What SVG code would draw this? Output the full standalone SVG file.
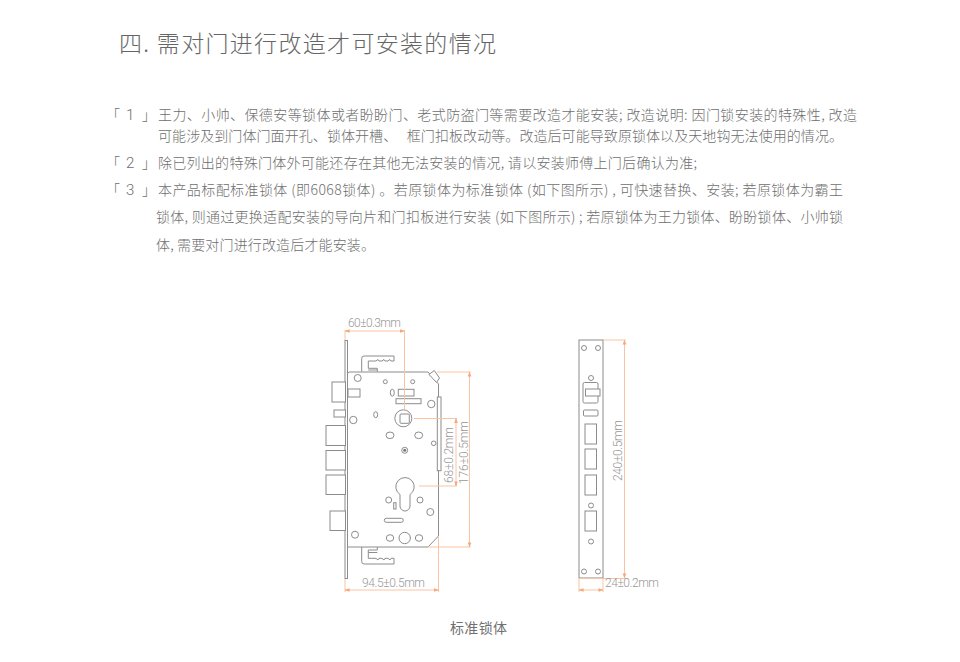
<svg xmlns="http://www.w3.org/2000/svg" width="960" height="662" viewBox="0 0 960 662">
<style>
text{font-family:"Noto Sans CJK SC","Liberation Sans",sans-serif;fill:#6e6e6e}
.t{font-size:14px;font-weight:300}
.h{font-size:23px;font-weight:300;fill:#666}
.d{font-size:12px;font-weight:300;fill:#999;font-family:Roboto,"Liberation Sans",sans-serif}
.c{font-size:14px;fill:#707070}
.n{font-size:15px;font-weight:300;font-family:Roboto,"Liberation Sans",sans-serif}
.o{fill:none;stroke:#fac3a3;stroke-width:1}
.l{fill:none;stroke:#8c8c8c;stroke-width:1}
.b{fill:#fff;stroke:#8c8c8c;stroke-width:1}
</style>
<defs>
<marker id="a" viewBox="0 0 6 6" refX="5.500" refY="3" markerWidth="5" markerHeight="5" orient="auto-start-reverse"><path d="M0 0.800L6 3L0 5.200Z" fill="#f5a77a"/></marker>
</defs>
<rect width="960" height="662" fill="#fff"/>
<g id="heading">
<text class="h" x="119" y="52" textLength="377">四. 需对门进行改造才可安装的情况</text>
</g>
<g id="notes">
<text class="t" x="106" y="120">「</text><text class="n" x="126" y="120">1</text><text class="t" x="142" y="120">」</text>
<text class="t" x="158" y="120" textLength="699">王力、小帅、保德安等锁体或者盼盼门、老式防盗门等需要改造才能安装; 改造说明: 因门锁安装的特殊性, 改造</text>
<text class="t" x="158" y="141" textLength="685" xml:space="preserve">可能涉及到门体门面开孔、锁体开槽、   框门扣板改动等。改造后可能导致原锁体以及天地钩无法使用的情况。</text>
<text class="t" x="106" y="168">「</text><text class="n" x="126" y="168">2</text><text class="t" x="142" y="168">」</text>
<text class="t" x="158" y="168" textLength="539">除已列出的特殊门体外可能还存在其他无法安装的情况, 请以安装师傅上门后确认为准;</text>
<text class="t" x="106" y="195">「</text><text class="n" x="126" y="195">3</text><text class="t" x="142" y="195">」</text>
<text class="t" x="158" y="195" textLength="685">本产品标配标准锁体 (即6068锁体) 。若原锁体为标准锁体 (如下图所示) , 可快速替换、安装; 若原锁体为霸王</text>
<text class="t" x="156" y="222" textLength="687">锁体, 则通过更换适配安装的导向片和门扣板进行安装 (如下图所示) ; 若原锁体为王力锁体、盼盼锁体、小帅锁</text>
<text class="t" x="156" y="250" textLength="219">体, 需要对门进行改造后才能安装。</text>
</g>
<g id="lock-side">
<rect class="b" x="345" y="340.500" width="2.500" height="238"/>
<rect class="b" x="332" y="382" width="13.500" height="20"/>
<rect class="b" x="334" y="410" width="11.500" height="7"/>
<rect class="b" x="326" y="425.500" width="19.500" height="20"/>
<rect class="b" x="326" y="450.500" width="19.500" height="19.500"/>
<rect class="b" x="326" y="475" width="19.500" height="19.500"/>
<rect class="b" x="330" y="511" width="15.500" height="19.500"/>
<path class="l" d="M361.700 371.700V358.500Q361.700 356 364 356H394V361H391L390 359.500L388 361H385L384 359.500L382 361H379L378 359.500L376 361H368.300V368.300H377.300V371.700M368.300 370H377.300"/>
<path class="l" d="M361.700 547V561.500Q361.700 564 364 564H394V558.300H391L390 560L388 558.300H385L384 560L382 558.300H379L378 560L376 558.300H368.300V550H377.300V547M368.300 552.500H377.300"/>
<path class="b" d="M347.500 374Q347.500 372 349.500 372H428L438.500 384V536L428 547H347.500Z"/>
<rect class="b" x="437.300" y="397" width="3.700" height="73.700"/>
<path class="b" d="M429 374.500L434.300 370.500L439.500 378L436.500 382.500Z"/>
<rect class="l" x="348" y="389" width="12" height="8"/>
<circle class="l" cx="357.700" cy="378" r="3.500"/>
<circle class="l" cx="385.300" cy="381.700" r="2"/>
<circle class="l" cx="412.700" cy="381.700" r="2"/>
<ellipse class="l" cx="392.300" cy="392.700" rx="2" ry="3.500"/>
<rect class="l" x="398.300" y="389.300" width="15.700" height="6.700"/>
<rect class="l" x="396" y="398.700" width="25" height="5"/>
<circle class="l" cx="431.300" cy="404" r="3.700"/>
<ellipse class="l" cx="375.700" cy="414.700" rx="2" ry="3"/>
<circle class="l" cx="353.300" cy="420" r="3.700"/>
<circle class="l" cx="403.300" cy="418.300" r="8.500"/>
<rect class="l" x="400" y="414" width="9.300" height="9.300" rx="1"/>
<ellipse class="l" cx="390" cy="435.300" rx="4" ry="3.300"/>
<ellipse class="l" cx="418.700" cy="435.300" rx="4" ry="3.300"/>
<circle class="l" cx="433.700" cy="443.300" r="2.300"/>
<circle class="l" cx="404.700" cy="450.300" r="3"/>
<circle cx="404.700" cy="450.300" r="1.500" fill="#777"/>
<path class="l" d="M400 494.500A9.200 9.200 0 1 1 410 494.500V506A5 5 0 0 1 400 506Z"/>
<circle class="l" cx="388.700" cy="500" r="3"/>
<circle class="l" cx="420" cy="500" r="3"/>
<rect class="l" x="393.700" y="502.700" width="2.300" height="6.300"/>
<circle class="l" cx="430.300" cy="512" r="3.500"/>
<rect class="l" x="384.300" y="518.300" width="19" height="4" rx="2"/>
<circle class="l" cx="355" cy="534.700" r="3.500"/>
<ellipse class="l" cx="390" cy="538" rx="3.700" ry="3.300"/>
<circle class="l" cx="404.700" cy="538" r="5.700"/>
<ellipse class="l" cx="419" cy="538" rx="3.700" ry="3.300"/>
</g>
<g id="lock-front">
<rect class="b" x="579" y="340" width="24" height="238"/>
<circle class="l" cx="584" cy="348" r="2.500"/>
<circle class="l" cx="598" cy="348" r="2.500"/>
<circle class="l" cx="591" cy="378" r="2.500"/>
<rect class="l" x="583" y="382.500" width="15" height="20.500" rx="1.500"/>
<rect class="b" x="585.500" y="389" width="14.500" height="7"/>
<rect class="l" x="583.500" y="410" width="14.500" height="6" rx="1"/>
<rect class="l" x="585" y="424" width="11.500" height="20"/>
<rect class="l" x="585" y="449" width="11.500" height="20"/>
<rect class="l" x="585" y="475" width="11.500" height="20"/>
<circle class="l" cx="591" cy="505.500" r="2.500"/>
<rect class="l" x="585" y="511" width="11.500" height="20"/>
<circle class="l" cx="591" cy="541.500" r="2.500"/>
<circle class="l" cx="584" cy="571.500" r="2.500"/>
<circle class="l" cx="598" cy="571.500" r="2.500"/>
</g>
<g id="connectors">
<path class="o" d="M345 340V330M404.500 330V409"/>
<path class="o" d="M345 331H404.500" marker-start="url(#a)" marker-end="url(#a)"/>
<path class="o" d="M414 418.500H457M419 486H457"/>
<path class="o" d="M456 418.500V486" marker-start="url(#a)" marker-end="url(#a)"/>
<path class="o" d="M437 372H471M428 547H471"/>
<path class="o" d="M469.500 372V547" marker-start="url(#a)" marker-end="url(#a)"/>
<path class="o" d="M345 579V592M438.500 536V592"/>
<path class="o" d="M345 590H438.500" marker-start="url(#a)" marker-end="url(#a)"/>
<path class="o" d="M603 340H626M579 578.500H628M579 578.500V592M603 578.500V592"/>
<path class="o" d="M624.500 340V578" marker-start="url(#a)" marker-end="url(#a)"/>
<path class="o" d="M579 590H603" marker-start="url(#a)" marker-end="url(#a)"/>
</g>
<g id="dimension-labels">
<text class="d" x="348" y="327" textLength="53">60±0.3mm</text>
<text class="d" x="362" y="587" textLength="63">94.5±0.5mm</text>
<text class="d" x="605" y="587" textLength="54">24±0.2mm</text>
<text class="d" transform="translate(453,483) rotate(-90)" textLength="56">68±0.2mm</text>
<text class="d" transform="translate(468,484) rotate(-90)" textLength="63">176±0.5mm</text>
<text class="d" transform="translate(622,481) rotate(-90)" textLength="61">240±0.5mm</text>
</g>
<g id="caption">
<text class="c" x="450" y="633" textLength="57">标准锁体</text>
</g>
</svg>
